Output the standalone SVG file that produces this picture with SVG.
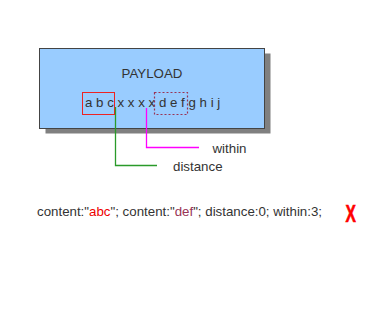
<svg xmlns="http://www.w3.org/2000/svg" width="378" height="321" viewBox="0 0 378 321">
<style>
text{font-family:"Liberation Sans",Arial,sans-serif;font-size:13.3px;fill:#333}
.ln{fill:none;stroke-width:1.3}
</style>
<rect width="378" height="321" fill="#fff"/>
<g id="payload">
<rect x="45.5" y="53.5" width="225" height="80" fill="#808080"/>
<rect x="39.5" y="48.5" width="225" height="80" fill="#99ccff" stroke="#444" stroke-width="1"/>
<text x="152" y="78" text-anchor="middle">PAYLOAD</text>
<text x="85" y="107">a b c x x x x d e f g h i j</text>
<rect x="82.5" y="92.5" width="32" height="22" fill="none" stroke="#ee2222" stroke-width="1"/>
<rect x="154.5" y="92.5" width="33" height="22" fill="none" stroke="#993355" stroke-width="1.2" stroke-dasharray="2,2"/>
</g>
<g id="connectors">
<polyline class="ln" points="115.5,107 115.5,165.5 157,165.5" stroke="#2a9a2a"/>
<polyline class="ln" points="146.5,108 146.5,147.5 199,147.5" stroke="#ff00ff"/>
</g>
<g id="labels">
<text x="212.5" y="153">within</text>
<text x="173" y="171">distance</text>
</g>
<g id="rule">
<text x="37" y="216">content:"<tspan fill="#e00">abc</tspan>"; content:"<tspan fill="#993355">def</tspan>"; distance:0; within:3;</text>
<text x="0" y="0" transform="translate(345.5,222) scale(0.68,1)" style="font-weight:bold;font-size:23px;fill:#ff0000;stroke:#ff0000;stroke-width:0.6">X</text>
</g>
</svg>
